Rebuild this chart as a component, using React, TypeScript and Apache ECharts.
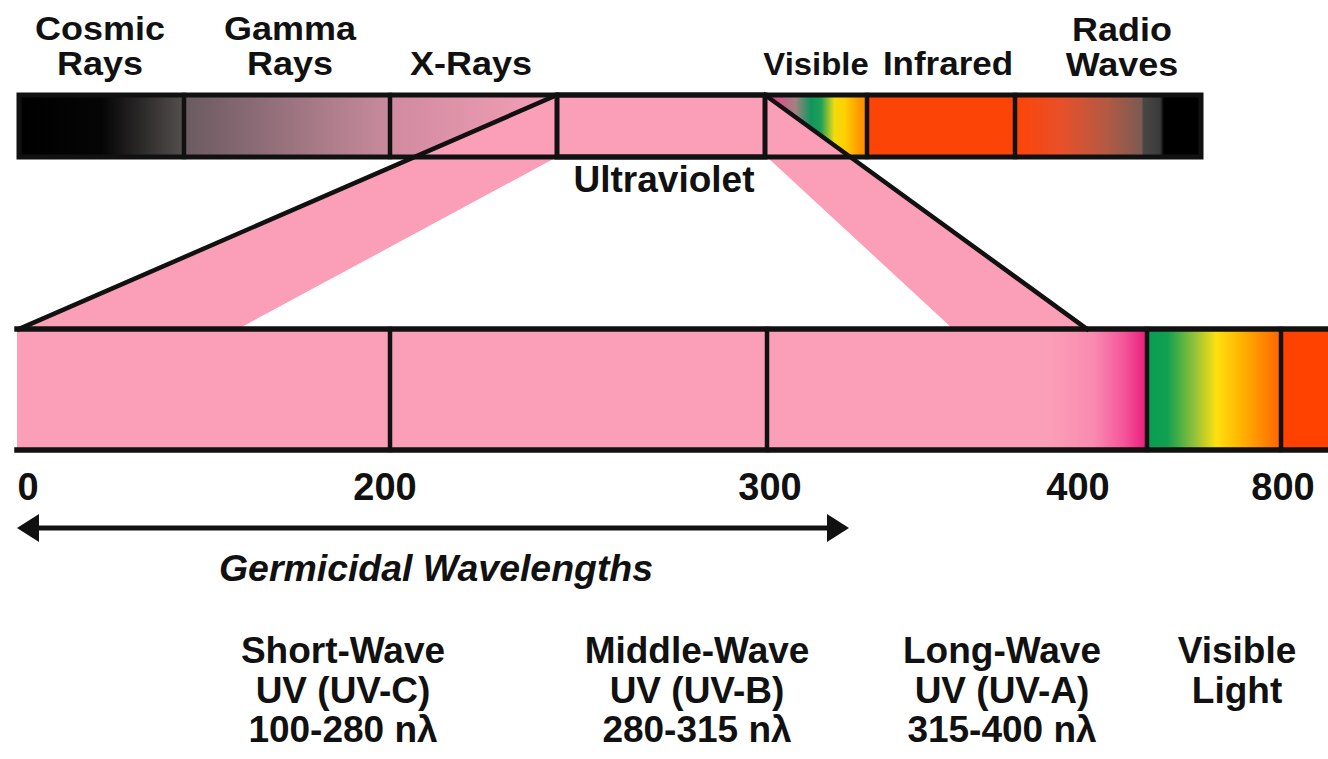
import React, { useEffect, useRef } from "react";
import * as echarts from "echarts";

// ---- content (texts / values) ----
const topBandLabels: string[][] = [
  ["Cosmic", "Rays"],
  ["Gamma", "Rays"],
  ["X-Rays"],
  ["Visible"],
  ["Infrared"],
  ["Radio", "Waves"],
];
const zoomLabel = "Ultraviolet";
const tickLabels = ["0", "200", "300", "400", "800"];
const rangeLabel = "Germicidal Wavelengths";
const bandNames = ["Short-Wave", "Middle-Wave", "Long-Wave", "Visible"];
const bandTypes = ["UV (UV-C)", "UV (UV-B)", "UV (UV-A)", "Light"];
const bandRanges = ["100-280 n\u03BB", "280-315 n\u03BB", "315-400 n\u03BB", ""];

// ---- layout (pixel positions, sizes, colours) ----
const FONT = '"Liberation Sans", Arial, Helvetica, sans-serif';
const PINK = "#fb9fb8";
const INK = "#111111";
const FS = 37;

const topLabelPos = [
  { x: 100, base: 75, size: 33, sx: 1.09 },
  { x: 290, base: 75, size: 33, sx: 1.09 },
  { x: 471, base: 75, size: 33, sx: 1.09 },
  { x: 816, base: 75, size: 31, sx: 1.06 },
  { x: 948, base: 75, size: 33, sx: 1.06 },
  { x: 1122, base: 76, size: 33, sx: 1.09 },
];
const topLineGap = 35;
const tickX = [28, 385, 770, 1078, 1283];
const bandX = [343, 697, 1002, 1237];
const bandLastBase = 743;
const bandLineGap = 39.5;

function lin(stops: [number, string][]) {
  return {
    type: "linear",
    x: 0,
    y: 0,
    x2: 1,
    y2: 0,
    colorStops: stops.map(([offset, color]) => ({ offset, color })),
  };
}

// multi-line text; `lastBaseline` is the baseline of the last line
function txt(
  x: number,
  lastBaseline: number,
  lines: string[],
  size: number,
  gap: number,
  italic = false,
  sx = 1
) {
  const n = lines.length;
  const lastMid = lastBaseline - size * 0.36;
  const blockMid = lastMid - ((n - 1) * gap) / 2;
  return {
    type: "text",
    x,
    y: blockMid,
    scaleX: sx,
    z: 50,
    style: {
      text: lines.join("\n"),
      fill: INK,
      fontFamily: FONT,
      fontWeight: "bold",
      fontStyle: italic ? "italic" : "normal",
      fontSize: size,
      lineHeight: gap,
      align: "center",
      verticalAlign: "middle",
    },
  };
}

function rect(x: number, y: number, w: number, h: number, fill: any, z = 1) {
  return { type: "rect", z, shape: { x, y, width: w, height: h }, style: { fill } };
}

function ln(x1: number, y1: number, x2: number, y2: number, w = 5, z = 20) {
  return {
    type: "line",
    z,
    shape: { x1, y1, x2, y2 },
    style: { stroke: INK, lineWidth: w, lineCap: "square" },
  };
}

export default function App() {
  const ref = useRef<HTMLDivElement>(null);

  useEffect(() => {
    if (!ref.current) return;
    const chart = echarts.init(ref.current, undefined, { renderer: "svg" });

    const TOP_Y = 95;
    const TOP_H = 62;
    const BOT_Y = 329;
    const BOT_H = 121;

    const els: any[] = [];

    // top spectrum bar segments
    els.push(rect(19, TOP_Y, 165, TOP_H, lin([[0, "#000"], [0.5, "#050505"], [1, "#55504f"]])));
    els.push(rect(184, TOP_Y, 206, TOP_H, lin([[0, "#6a5a60"], [1, "#c98b9d"]])));
    els.push(rect(390, TOP_Y, 167, TOP_H, lin([[0, "#d08a9f"], [1, "#f4a0b8"]])));
    els.push(
      rect(
        765,
        TOP_Y,
        102,
        TOP_H,
        lin([
          [0, "#e8307a"],
          [0.15, "#d05a88"],
          [0.3, "#a08282"],
          [0.45, "#0f965c"],
          [0.55, "#20a058"],
          [0.68, "#f0dc10"],
          [0.78, "#ffd000"],
          [0.92, "#ff9a00"],
          [1, "#ff8a00"],
        ])
      )
    );
    els.push(rect(867, TOP_Y, 148, TOP_H, "#fd4407"));
    els.push(
      rect(
        1015,
        TOP_Y,
        186,
        TOP_H,
        lin([
          [0, "#fd4407"],
          [0.25, "#e8502a"],
          [0.5, "#b05a44"],
          [0.68, "#7c5a52"],
          [0.69, "#4a4646"],
          [0.78, "#3a3a3a"],
          [0.8, "#000"],
          [1, "#000"],
        ])
      )
    );

    // zoom funnel (pink)
    els.push({
      type: "polygon",
      z: 5,
      shape: {
        points: [
          [557, TOP_Y],
          [765, TOP_Y],
          [1087, BOT_Y],
          [953, BOT_Y],
          [767, TOP_Y + TOP_H],
          [557, TOP_Y + TOP_H],
          [238, BOT_Y],
          [19, BOT_Y],
        ],
      },
      style: { fill: PINK },
    });
    els.push(ln(557, TOP_Y, 19, BOT_Y, 4.5, 21));
    els.push(ln(765, TOP_Y, 1087, BOT_Y, 4.5, 21));

    // UV box in the top bar
    els.push(rect(557, TOP_Y, 208, TOP_H, PINK, 6));

    // top bar outlines and dividers
    els.push({
      type: "rect",
      z: 22,
      shape: { x: 19, y: TOP_Y, width: 1182, height: TOP_H },
      style: { fill: "none", stroke: INK, lineWidth: 5 },
    });
    els.push({
      type: "rect",
      z: 23,
      shape: { x: 557, y: TOP_Y, width: 208, height: TOP_H },
      style: { fill: "none", stroke: INK, lineWidth: 5 },
    });
    [184, 390, 867, 1015].forEach((x) => els.push(ln(x, TOP_Y, x, TOP_Y + TOP_H, 4.5)));

    // bottom (expanded) bar
    els.push(rect(17, BOT_Y, 373, BOT_H, PINK));
    els.push(rect(390, BOT_Y, 377, BOT_H, PINK));
    els.push(
      rect(
        767,
        BOT_Y,
        380,
        BOT_H,
        lin([
          [0, PINK],
          [0.74, PINK],
          [0.86, "#f98ab0"],
          [0.94, "#f4559a"],
          [1, "#ea1c7a"],
        ])
      )
    );
    els.push(
      rect(
        1147,
        BOT_Y,
        134,
        BOT_H,
        lin([
          [0, "#0a9c55"],
          [0.15, "#10a050"],
          [0.35, "#90c03a"],
          [0.52, "#ffe010"],
          [0.7, "#ffb400"],
          [1, "#ff6400"],
        ])
      )
    );
    els.push(rect(1281, BOT_Y, 60, BOT_H, "#ff4200"));
    els.push(ln(17, BOT_Y, 1340, BOT_Y, 5.5));
    els.push(ln(17, BOT_Y + BOT_H, 1340, BOT_Y + BOT_H, 5.5));
    [390, 767, 1147, 1281].forEach((x) => els.push(ln(x, BOT_Y, x, BOT_Y + BOT_H, 4.5)));

    // labels above top bar
    topBandLabels.forEach((lines, i) => {
      const p = topLabelPos[i];
      els.push(txt(p.x, p.base, lines, p.size, topLineGap, false, p.sx));
    });
    els.push(txt(664, 193, [zoomLabel], 37, 37));

    // tick labels
    tickLabels.forEach((t, i) => els.push(txt(tickX[i], 501, [t], 38, 38)));

    // double-headed arrow
    els.push(ln(30, 528, 836, 528, 5));
    els.push({
      type: "polygon",
      z: 24,
      shape: { points: [[17, 528], [39, 514], [39, 542]] },
      style: { fill: INK },
    });
    els.push({
      type: "polygon",
      z: 24,
      shape: { points: [[849, 528], [827, 514], [827, 542]] },
      style: { fill: INK },
    });
    els.push(txt(436, 582, [rangeLabel], 36, 36, true, 1.04));

    // band descriptions
    bandNames.forEach((name, i) => {
      const rows = [name, bandTypes[i], bandRanges[i]].filter((t) => t);
      const lastBase = bandLastBase - (3 - rows.length) * bandLineGap;
      els.push(txt(bandX[i], lastBase, rows, FS, bandLineGap));
    });

    chart.setOption({
      animation: false,
      backgroundColor: "#ffffff",
      graphic: { elements: els },
    });

    return () => chart.dispose();
  }, []);

  return (
    <div
      ref={ref}
      style={{ position: "fixed", left: 0, top: 0, width: 1328, height: 759, background: "#fff" }}
    />
  );
}
